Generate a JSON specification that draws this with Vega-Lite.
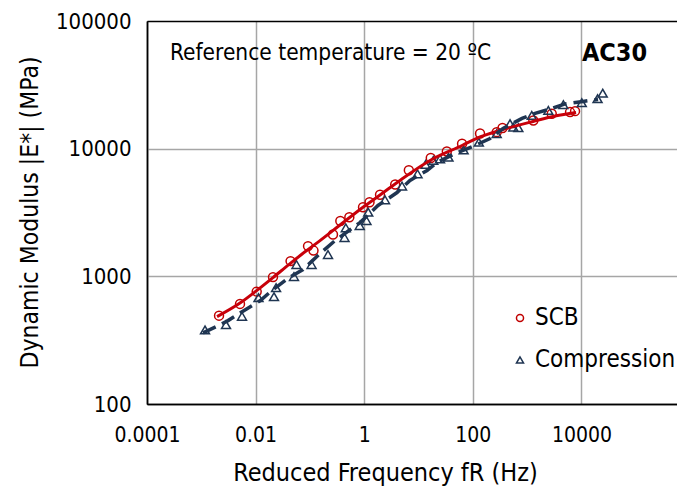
{
  "$schema": "https://vega.github.io/schema/vega-lite/v6.json",
  "width": 530,
  "height": 383,
  "autosize": {"type": "none"},
  "padding": {"left": 147, "top": 21, "right": 0, "bottom": 90},
  "background": "white",
  "config": {
    "view": {"stroke": null},
    "font": "DejaVu Sans Condensed, Liberation Sans, sans-serif"
  },
  "datasets": {
    "measured": [
      {"freq": 0.00212, "modulus": 492, "test": "SCB"},
      {"freq": 0.00516, "modulus": 608, "test": "SCB"},
      {"freq": 0.01047, "modulus": 759, "test": "SCB"},
      {"freq": 0.0209, "modulus": 986, "test": "SCB"},
      {"freq": 0.044, "modulus": 1316, "test": "SCB"},
      {"freq": 0.0923, "modulus": 1725, "test": "SCB"},
      {"freq": 0.1164, "modulus": 1591, "test": "SCB"},
      {"freq": 0.266, "modulus": 2125, "test": "SCB"},
      {"freq": 0.363, "modulus": 2710, "test": "SCB"},
      {"freq": 0.532, "modulus": 2902, "test": "SCB"},
      {"freq": 0.95, "modulus": 3478, "test": "SCB"},
      {"freq": 1.253, "modulus": 3805, "test": "SCB"},
      {"freq": 1.954, "modulus": 4357, "test": "SCB"},
      {"freq": 3.72, "modulus": 5240, "test": "SCB"},
      {"freq": 6.63, "modulus": 6780, "test": "SCB"},
      {"freq": 16.8, "modulus": 8450, "test": "SCB"},
      {"freq": 33.2, "modulus": 9510, "test": "SCB"},
      {"freq": 63.3, "modulus": 10920, "test": "SCB"},
      {"freq": 135.8, "modulus": 13160, "test": "SCB"},
      {"freq": 275, "modulus": 13470, "test": "SCB"},
      {"freq": 352, "modulus": 14530, "test": "SCB"},
      {"freq": 1300, "modulus": 16640, "test": "SCB"},
      {"freq": 2838, "modulus": 18780, "test": "SCB"},
      {"freq": 6166, "modulus": 19340, "test": "SCB"},
      {"freq": 7621, "modulus": 19680, "test": "SCB"},
      {"freq": 0.00117, "modulus": 380, "test": "Compression"},
      {"freq": 0.00285, "modulus": 418, "test": "Compression"},
      {"freq": 0.00562, "modulus": 486, "test": "Compression"},
      {"freq": 0.0113, "modulus": 681, "test": "Compression"},
      {"freq": 0.0218, "modulus": 693, "test": "Compression"},
      {"freq": 0.0238, "modulus": 815, "test": "Compression"},
      {"freq": 0.0509, "modulus": 995, "test": "Compression"},
      {"freq": 0.0566, "modulus": 1236, "test": "Compression"},
      {"freq": 0.1074, "modulus": 1236, "test": "Compression"},
      {"freq": 0.2154, "modulus": 1480, "test": "Compression"},
      {"freq": 0.434, "modulus": 2012, "test": "Compression"},
      {"freq": 0.458, "modulus": 2398, "test": "Compression"},
      {"freq": 0.826, "modulus": 2500, "test": "Compression"},
      {"freq": 1.1, "modulus": 2735, "test": "Compression"},
      {"freq": 1.185, "modulus": 3177, "test": "Compression"},
      {"freq": 2.415, "modulus": 3975, "test": "Compression"},
      {"freq": 4.97, "modulus": 5096, "test": "Compression"},
      {"freq": 9.59, "modulus": 6358, "test": "Compression"},
      {"freq": 13.5, "modulus": 7520, "test": "Compression"},
      {"freq": 18.7, "modulus": 8080, "test": "Compression"},
      {"freq": 24.9, "modulus": 8330, "test": "Compression"},
      {"freq": 35.6, "modulus": 8580, "test": "Compression"},
      {"freq": 67.7, "modulus": 9770, "test": "Compression"},
      {"freq": 128.9, "modulus": 11250, "test": "Compression"},
      {"freq": 275, "modulus": 13090, "test": "Compression"},
      {"freq": 484, "modulus": 15680, "test": "Compression"},
      {"freq": 557, "modulus": 14750, "test": "Compression"},
      {"freq": 689, "modulus": 14590, "test": "Compression"},
      {"freq": 1216, "modulus": 18210, "test": "Compression"},
      {"freq": 2455, "modulus": 19940, "test": "Compression"},
      {"freq": 4645, "modulus": 22100, "test": "Compression"},
      {"freq": 10140, "modulus": 22910, "test": "Compression"},
      {"freq": 19800, "modulus": 24630, "test": "Compression"},
      {"freq": 24660, "modulus": 27200, "test": "Compression"}
    ],
    "scbFit": [
      {"freq": 0.00195, "modulus": 483},
      {"freq": 0.00516, "modulus": 617},
      {"freq": 0.01016, "modulus": 765},
      {"freq": 0.0209, "modulus": 977},
      {"freq": 0.0431, "modulus": 1259},
      {"freq": 0.0847, "modulus": 1578},
      {"freq": 0.1535, "modulus": 1905},
      {"freq": 0.358, "modulus": 2524},
      {"freq": 0.991, "modulus": 3525},
      {"freq": 1.954, "modulus": 4335},
      {"freq": 4.56, "modulus": 5640},
      {"freq": 16.3, "modulus": 8075},
      {"freq": 63.3, "modulus": 10590},
      {"freq": 135.8, "modulus": 12360},
      {"freq": 317, "modulus": 13900},
      {"freq": 1285, "modulus": 16330},
      {"freq": 3266, "modulus": 18030},
      {"freq": 7960, "modulus": 19230}
    ],
    "compressionFit": [
      {"freq": 0.001074, "modulus": 361},
      {"freq": 0.001866, "modulus": 403},
      {"freq": 0.003105, "modulus": 450},
      {"freq": 0.00695, "modulus": 558},
      {"freq": 0.01208, "modulus": 644},
      {"freq": 0.0209, "modulus": 787},
      {"freq": 0.0412, "modulus": 977},
      {"freq": 0.0746, "modulus": 1130},
      {"freq": 0.1535, "modulus": 1507},
      {"freq": 0.29, "modulus": 1905},
      {"freq": 0.547, "modulus": 2317},
      {"freq": 0.837, "modulus": 2634},
      {"freq": 1.794, "modulus": 3590},
      {"freq": 4.02, "modulus": 4530},
      {"freq": 6.97, "modulus": 5640},
      {"freq": 14.35, "modulus": 6745},
      {"freq": 21.9, "modulus": 7800},
      {"freq": 47.0, "modulus": 9160},
      {"freq": 109.8, "modulus": 10590},
      {"freq": 207.5, "modulus": 12020},
      {"freq": 360, "modulus": 14390},
      {"freq": 805, "modulus": 17260},
      {"freq": 1397, "modulus": 18880},
      {"freq": 2877, "modulus": 20650},
      {"freq": 4990, "modulus": 22440},
      {"freq": 10720, "modulus": 23440},
      {"freq": 20230, "modulus": 24320}
    ],
    "notes": [
      {"freq": 0.000265, "modulus": 55900, "note": "Reference temperature = 20 ºC", "kind": "condition"},
      {"freq": 40740, "modulus": 55900, "note": "AC30", "kind": "mix"}
    ]
  },
  "encoding": {
    "x": {
      "field": "freq",
      "type": "quantitative",
      "scale": {"type": "log", "domain": [0.0001, 575000], "nice": false},
      "axis": {
        "title": "Reduced Frequency fR (Hz)",
        "values": [0.0001, 0.01, 1, 100, 10000],
        "labelExpr": "datum.value < 1 ? format(datum.value, '.4~f') : format(datum.value, 'd')",
        "labelFontSize": 21,
        "labelColor": "black",
        "labelPadding": 20,
        "labelFlush": false,
        "labelOverlap": false,
        "labelBound": false,
        "ticks": false,
        "tickSize": 0,
        "domainColor": "black",
        "domainWidth": 1.5,
        "grid": true,
        "gridColor": {"condition": {"test": "datum.value <= 0.0001", "value": "black"}, "value": "#a6a6a6"},
        "gridWidth": 1.5,
        "titleFontSize": 25,
        "titleFontWeight": "normal",
        "titleColor": "black",
        "titleX": 238,
        "titleY": 76,
        "titleBaseline": "alphabetic"
      }
    },
    "y": {
      "field": "modulus",
      "type": "quantitative",
      "scale": {"type": "log", "domain": [100, 100000], "nice": false},
      "axis": {
        "title": "Dynamic Modulus |E*| (MPa)",
        "values": [100, 1000, 10000, 100000],
        "format": "d",
        "labelFontSize": 22,
        "labelColor": "black",
        "labelPadding": 16,
        "labelOverlap": false,
        "labelBound": false,
        "ticks": false,
        "tickSize": 0,
        "domainColor": "black",
        "domainWidth": 1.5,
        "grid": true,
        "gridColor": {"condition": {"test": "datum.value <= 100 || datum.value >= 100000", "value": "black"}, "value": "#a6a6a6"},
        "gridWidth": 1.5,
        "titleFontSize": 24.5,
        "titleFontWeight": "normal",
        "titleColor": "black",
        "titleAngle": 270,
        "titleX": -110,
        "titleY": 191,
        "titleBaseline": "alphabetic"
      }
    }
  },
  "layer": [
    {
      "data": {"name": "measured"},
      "mark": {"type": "point", "filled": false, "strokeWidth": 1.5, "size": 80, "opacity": 1},
      "encoding": {
        "color": {
          "field": "test",
          "type": "nominal",
          "scale": {"domain": ["SCB", "Compression"], "range": ["#c00000", "#1f3552"]},
          "legend": {
            "orient": "none",
            "legendX": 361,
            "legendY": 285,
            "title": null,
            "padding": 0,
            "labelFontSize": 24,
            "labelColor": "black",
            "labelOffset": 3,
            "rowPadding": 18,
            "symbolSize": 50,
            "symbolStrokeWidth": 1.5
          }
        },
        "shape": {
          "field": "test",
          "type": "nominal",
          "scale": {"domain": ["SCB", "Compression"], "range": ["circle", "triangle-up"]},
          "legend": {
            "orient": "none",
            "legendX": 361,
            "legendY": 285,
            "title": null,
            "padding": 0,
            "labelFontSize": 24,
            "labelColor": "black",
            "labelOffset": 3,
            "rowPadding": 18,
            "symbolSize": 50,
            "symbolStrokeWidth": 1.5
          }
        }
      }
    },
    {
      "data": {"name": "scbFit"},
      "mark": {"type": "line", "color": "#c8000a", "strokeWidth": 3, "interpolate": "monotone"}
    },
    {
      "data": {"name": "compressionFit"},
      "mark": {"type": "line", "color": "#1f3552", "strokeWidth": 3.5, "strokeDash": [14, 7], "strokeCap": "butt"}
    },
    {
      "data": {"name": "notes"},
      "transform": [{"filter": "datum.kind === 'condition'"}],
      "mark": {"type": "text", "align": "left", "baseline": "middle", "fontSize": 22.5, "color": "black"},
      "encoding": {"text": {"field": "note"}}
    },
    {
      "data": {"name": "notes"},
      "transform": [{"filter": "datum.kind === 'mix'"}],
      "mark": {"type": "text", "align": "center", "baseline": "middle", "fontSize": 25, "fontWeight": "bold", "color": "black"},
      "encoding": {"text": {"field": "note"}}
    }
  ]
}
